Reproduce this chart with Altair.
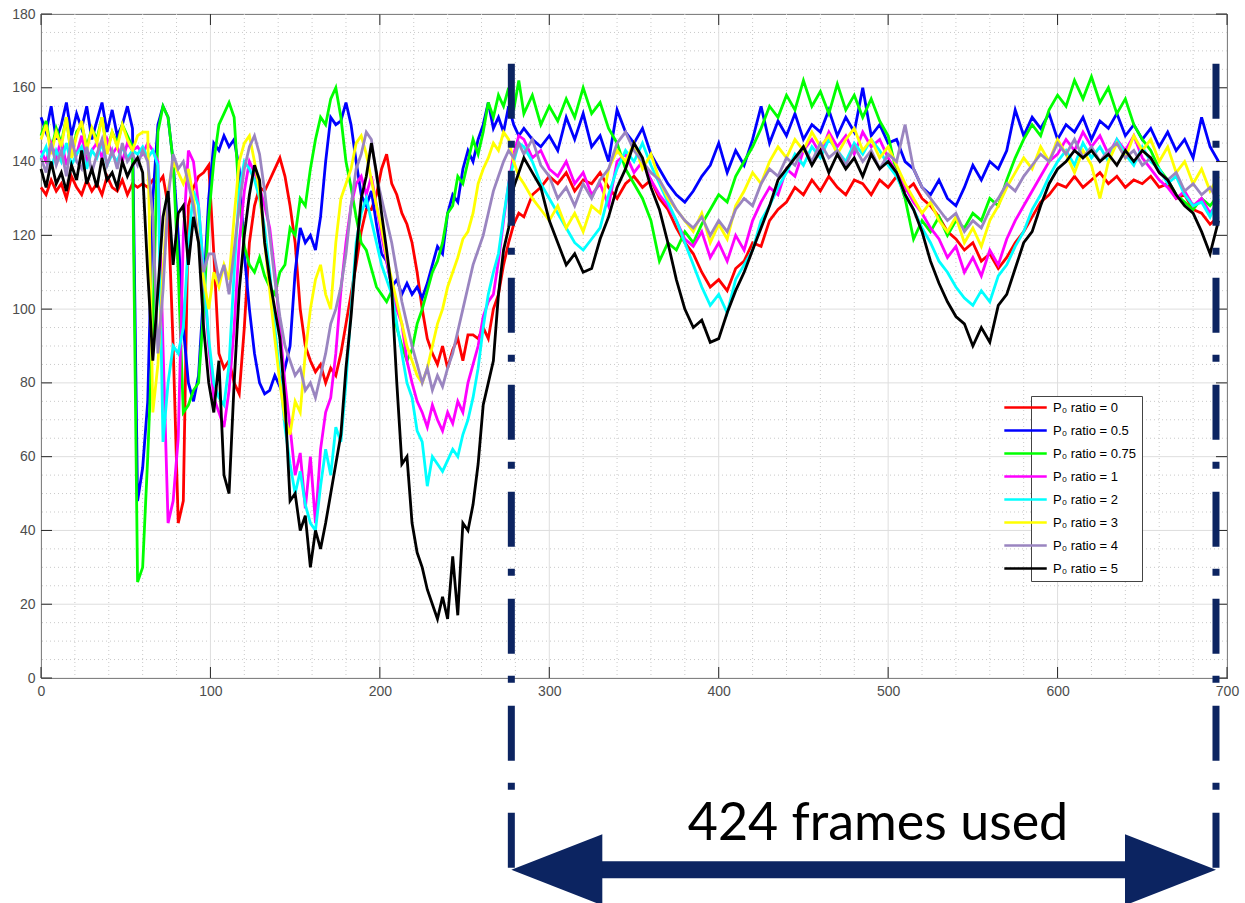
import altair as alt
import pandas as pd

# ---------------- data ----------------
FRAMES = list(range(0, 285, 3)) + list(range(285, 700, 5))

SERIES = ["P₀ ratio = 0", "P₀ ratio = 0.5", "P₀ ratio = 0.75", "P₀ ratio = 1",
          "P₀ ratio = 2", "P₀ ratio = 3", "P₀ ratio = 4", "P₀ ratio = 5"]
COLORS = ["#ff0000", "#0000ff", "#00ff00", "#ff00ff",
          "#00ffff", "#ffff00", "#9a85c0", "#000000"]

RATIO_0 = [
    133, 131, 135, 132, 134, 130, 136, 133, 131, 135, 132, 134, 131, 136, 133, 132, 135, 131, 134, 133,
    134, 133, 135, 134, 136, 128, 90, 42, 48, 128,
    133, 136, 137, 139, 115, 88, 84, 86, 80, 77,
    95, 118, 128, 133, 132, 135, 138, 141, 136, 128,
    118, 100, 90, 86, 83, 85, 80, 84, 82, 88,
    96, 104, 112, 121, 127, 127, 131, 138, 142, 134,
    131, 126, 123, 118, 110, 100, 92, 88, 85, 90,
    84, 89, 92, 86, 93, 93, 92, 95, 92, 100,
    104, 112, 118, 123, 126,
    125, 131, 133, 136, 134, 137, 132, 135, 134, 137,
    133, 130, 134, 136, 133, 135, 130, 127, 122, 118,
    115, 110, 106, 108, 105, 111, 113, 118, 117, 124,
    127, 129, 133, 131, 135, 132, 136, 133, 131, 135,
    134, 131, 135, 133, 136, 132, 134, 130, 128, 125,
    121, 119, 116, 118, 113, 115, 111, 114, 118, 121,
    125, 129, 131, 134, 133, 136, 133, 135, 137, 134,
    136, 133, 135, 134, 136, 133, 134, 130, 131, 127,
    126, 123, 125,
]
RATIO_05 = [
    152, 148, 155, 146, 150, 156, 147, 153, 149, 155, 146, 151, 156, 148, 154, 147, 150, 155, 149, 48,
    57, 75, 130, 150, 155, 152, 140, 120, 95, 80,
    75, 82, 105, 130, 145, 143, 147, 144, 146, 138,
    115, 100, 88, 80, 77, 78, 82, 79, 84, 90,
    110, 122, 118, 120, 116, 125, 140, 152, 150, 151,
    156, 150, 140, 131, 128, 132, 123, 115, 113, 106,
    108, 104, 107, 104, 106, 103, 107, 112, 117, 115,
    126, 131, 129, 138, 143, 140, 146, 150, 156, 149,
    152, 148, 155, 150, 147,
    149, 146, 144, 147, 143, 152, 146, 153, 144, 147,
    140, 154, 148, 145, 149, 142, 138, 134, 131, 129,
    132, 136, 139, 145, 137, 143, 139, 146, 155, 145,
    151, 147, 153, 146, 150, 148, 154, 147, 152, 148,
    160, 147, 150, 145, 146, 140, 138, 133, 131, 135,
    130, 128, 133, 139, 135, 140, 138, 143, 154, 147,
    152, 149, 153, 146, 150, 148, 152, 146, 151, 149,
    153, 147, 150, 146, 149, 144, 148, 143, 146, 141,
    152, 144, 140,
]
RATIO_075 = [
    147, 151, 143, 149, 145, 152, 141, 148, 150, 144, 149, 146, 152, 143, 148, 145, 150, 147, 144, 26,
    30, 60, 95, 148, 155, 152, 140, 110, 72, 74,
    78, 80, 100, 125, 140, 150, 153, 156, 152, 130,
    117, 112, 110, 114, 109, 106, 104, 110, 112, 122,
    120, 130, 128, 138, 146, 152, 150, 157, 160, 152,
    140, 133, 125, 118, 116, 111, 106, 104, 102, 105,
    95, 90, 86, 89, 96, 100, 105, 110, 113, 118,
    126, 128, 136, 134, 140, 146, 142, 148, 156, 152,
    158, 155, 160, 154, 162,
    153, 158, 150, 155, 151, 157, 152, 160, 153, 156,
    149, 145, 138, 134, 130, 124, 113, 118, 116, 121,
    118, 123, 127, 131, 129, 136, 140, 144, 149, 155,
    152, 158, 154, 162, 155, 159, 153, 161, 154, 158,
    152, 157, 151, 147, 137, 130, 119, 124, 121, 125,
    120, 124, 122, 126, 124, 130, 128, 135, 141, 146,
    150, 147, 154, 158, 155, 162, 157, 163, 156, 160,
    153, 157, 150, 146, 143, 138, 135, 131, 129, 127,
    130, 128, 131,
]
RATIO_1 = [
    143, 140, 145, 141, 146, 139, 144, 142, 147, 140, 143, 145, 141, 146, 142, 144, 140, 145, 143, 144,
    142, 145, 143, 140, 90, 42, 48, 65, 120, 143,
    140, 128, 110, 90, 76, 72, 68, 78, 95, 118,
    132, 140, 137, 133, 128, 122, 110, 95, 80, 68,
    55, 61, 46, 60, 42, 62, 72, 76, 88, 105,
    118, 128, 134, 136, 131, 136, 128, 120, 113, 107,
    100, 96, 86, 80, 75, 72, 68, 74, 70, 67,
    72, 69, 75, 72, 80, 85, 90, 98, 102, 104,
    113, 124, 134, 142, 147,
    146, 141, 143, 138, 136, 140, 134, 137, 131, 134,
    128, 140, 142, 137, 140, 135, 131, 128, 124, 119,
    117, 121, 114, 118, 113, 120, 116, 124, 129, 133,
    131, 138, 136, 143, 146, 142, 148, 144, 147, 142,
    148, 144, 146, 141, 137, 133, 129, 126, 122, 119,
    114, 117, 110, 114, 109, 116, 112, 119, 124, 128,
    132, 136, 140, 142, 146, 143, 148, 144, 147, 142,
    146, 143, 147, 141, 138, 135, 133, 130, 132, 128,
    130, 126, 129,
]
RATIO_2 = [
    141, 144, 138, 143, 140, 145, 139, 142, 144, 138, 143, 141, 145, 139, 142, 140, 144, 141, 143, 142,
    144, 141, 143, 139, 64, 80, 90, 88, 95, 118,
    132, 128, 110, 92, 80, 76, 74, 85, 110, 132,
    140, 138, 135, 130, 122, 110, 95, 82, 68, 58,
    50, 56, 47, 42, 40, 52, 62, 55, 68, 64,
    80, 100, 118, 126, 130, 124, 118, 112, 108, 104,
    96, 88, 80, 76, 67, 64, 52, 60, 58, 56,
    59, 62, 60, 66, 70, 76, 84, 95, 104, 110,
    115, 125, 134, 140, 145,
    144, 140, 134, 130, 126, 122, 118, 116, 119, 122,
    131, 138, 143, 140, 145, 139, 134, 129, 124, 118,
    112, 106, 101, 104, 99, 108, 112, 116, 124, 128,
    133, 137, 142, 139, 144, 141, 146, 143, 140, 145,
    142, 146, 143, 139, 136, 131, 127, 122, 118, 113,
    110, 106, 103, 101, 105, 102, 109, 112, 117, 121,
    127, 131, 136, 140, 143, 139, 145, 141, 144, 140,
    146, 142, 139, 144, 140, 138, 134, 136, 131, 128,
    129, 125, 130,
]
RATIO_3 = [
    146, 150, 142, 148, 144, 152, 141, 147, 151, 143, 149, 145, 152, 142, 148, 144, 150, 146, 143, 147,
    148, 148, 72, 85, 110, 132, 140, 137, 134, 138,
    130, 118, 108, 100, 110, 106, 112, 108, 125, 140,
    145, 147, 140, 132, 118, 105, 92, 80, 70, 66,
    75, 72, 88, 100, 108, 112, 104, 100, 118, 130,
    134, 138, 145, 147, 142, 135, 128, 122, 114, 108,
    102, 96, 90, 86, 82, 80, 84, 90, 96, 100,
    106, 110, 114, 119, 121, 126, 134, 138, 141, 145,
    143, 148, 146, 140, 136,
    134, 130, 127, 124, 128, 122, 126, 121, 128, 126,
    138, 143, 140, 145, 138, 142, 135, 130, 127, 124,
    121, 126, 118, 123, 119, 128, 132, 137, 134, 140,
    144, 141, 146, 143, 148, 144, 147, 142, 146, 149,
    143, 146, 141, 144, 139, 134, 130, 126, 129, 124,
    121, 125, 118, 122, 117, 124, 128, 133, 137, 141,
    138, 144, 140, 146, 142, 137, 143, 139, 130, 140,
    145, 141, 147, 143, 146, 140, 144, 137, 140, 134,
    138, 132, 136,
]
RATIO_4 = [
    141, 137, 145, 139, 143, 136, 147, 140, 138, 144, 137, 142, 146, 139, 143, 138, 145, 140, 142, 139,
    143, 140, 125, 88, 105, 130, 142, 138, 140, 134,
    128, 118, 110, 115, 115, 108, 112, 104, 116, 128,
    138, 144, 147, 142, 132, 120, 108, 98, 90, 86,
    82, 84, 78, 80, 76, 82, 88, 96, 100, 106,
    115, 128, 138, 142, 148, 146, 136, 130, 124, 118,
    110, 102, 96, 90, 85, 80, 84, 78, 82, 79,
    84, 88, 94, 100, 106, 112, 116, 120, 126, 132,
    136, 140, 143, 141, 145,
    142, 146, 139, 136, 130, 133, 128, 134, 130, 135,
    138, 145, 148, 143, 140, 137, 135, 131, 127, 124,
    122, 125, 120, 124, 121, 127, 130, 128, 134, 138,
    136, 141, 139, 144, 140, 145, 141, 143, 139, 144,
    140, 143, 138, 142, 140, 150, 138, 133, 130, 127,
    124, 126, 121, 124, 122, 127, 130, 134, 132, 136,
    139, 142, 140, 145, 142, 146, 141, 144, 140, 143,
    145, 141, 143, 139, 141, 137, 135, 137, 132, 134,
    131, 133, 129,
]
RATIO_5 = [
    138, 133, 140, 134, 137, 132, 139, 135, 143, 134, 138, 133, 141, 135, 137, 133, 140, 136, 139, 141,
    137, 110, 86, 105, 125, 132, 112, 126, 128, 112,
    125, 118, 95, 80, 72, 86, 55, 50, 80, 105,
    120, 131, 139, 135, 118, 108, 100, 92, 75, 48,
    50, 40, 44, 30, 40, 35, 42, 50, 58, 66,
    84, 98, 115, 130, 136, 145, 137, 126, 116, 105,
    80, 58, 60, 42, 34, 30, 24, 20, 16, 22,
    16, 33, 17, 42, 40, 47, 58, 74, 80, 86,
    104, 116, 122, 133, 137,
    141, 137, 133, 124, 118, 112, 115, 110, 111, 119,
    125, 133, 138, 145, 141, 133, 127, 118, 108, 100,
    95, 97, 91, 92, 99, 105, 110, 116, 122, 128,
    135, 138, 141, 144, 139, 143, 137, 142, 138, 141,
    136, 142, 138, 140, 137, 131, 127, 121, 113, 107,
    102, 98, 96, 90, 95, 91, 101, 104, 111, 118,
    121, 128, 134, 138, 140, 143, 141, 143, 140, 142,
    139, 143, 140, 143, 141, 137, 135, 131, 128, 126,
    121, 115, 124,
]
VALUES = [RATIO_0, RATIO_05, RATIO_075, RATIO_1, RATIO_2, RATIO_3, RATIO_4, RATIO_5]

X_TICKS = [0, 100, 200, 300, 400, 500, 600, 700]
Y_TICKS = [0, 20, 40, 60, 80, 100, 120, 140, 160, 180]
X_MINOR = [20, 40, 60, 80, 120, 140, 160, 180, 220, 240, 260, 280, 320, 340, 360, 380,
           420, 440, 460, 480, 520, 540, 560, 580, 620, 640, 660, 680]
Y_MINOR = [5, 10, 15, 25, 30, 35, 45, 50, 55, 65, 70, 75, 85, 90, 95, 105, 110, 115,
           125, 130, 135, 145, 150, 155, 165, 170, 175]
USED_FRAMES = [277.6, 693.5]
ANNOTATION = "424 frames used"

# ---------------- build ----------------
W, H = 1186, 664
NAVY = "#0c2461"
AXIS_FONT = "Liberation Sans"

rows = []
for name, vals in zip(SERIES, VALUES):
    assert len(vals) == len(FRAMES), (name, len(vals), len(FRAMES))
    rows += [{"frame": f, "value": v, "series": name} for f, v in zip(FRAMES, vals)]
df = pd.DataFrame(rows)

xscale = alt.Scale(domain=[0, 700], nice=False, zero=False)
yscale = alt.Scale(domain=[0, 180], nice=False, zero=False)

x_axis = alt.Axis(values=X_TICKS, grid=False, ticks=False, domain=False,
                  labelFont=AXIS_FONT, labelFontSize=14, labelColor="#4d4d4d",
                  labelPadding=6, labelFlush=False, title=None, format="d")
y_axis = alt.Axis(values=Y_TICKS, grid=False, ticks=False, domain=False,
                  labelFont=AXIS_FONT, labelFontSize=14, labelColor="#4d4d4d",
                  labelPadding=6, labelFlush=False, title=None, format="d")

one = pd.DataFrame({"k": [0]})

def vgrid(vals, **kw):
    return alt.Chart(pd.DataFrame({"g": vals})).mark_rule(**kw).encode(
        x=alt.X("g:Q", scale=xscale, axis=x_axis))

def hgrid(vals, **kw):
    return alt.Chart(pd.DataFrame({"g": vals})).mark_rule(**kw).encode(
        y=alt.Y("g:Q", scale=yscale, axis=y_axis))

minor_x = vgrid(X_MINOR, color="#c9c9c9", strokeDash=[1, 3], strokeWidth=1)
minor_y = hgrid(Y_MINOR, color="#c9c9c9", strokeDash=[1, 3], strokeWidth=1)
major_x = vgrid(X_TICKS, color="#dedede", strokeWidth=1)
major_y = hgrid(Y_TICKS, color="#dedede", strokeWidth=1)

color = alt.Color(
    "series:N",
    scale=alt.Scale(domain=SERIES, range=COLORS),
    legend=alt.Legend(
        title=None, orient="none", legendX=990, legendY=382,
        symbolType="M-9,0H1", symbolSize=72, symbolStrokeWidth=2.5,
        labelFont=AXIS_FONT, labelFontSize=13, labelColor="#000000",
        strokeColor="#444444", fillColor="#ffffff", padding=5,
        rowPadding=9, labelOffset=4,
    ),
)

lines = [
    alt.Chart(df).transform_filter(alt.datum.series == s).mark_line(strokeWidth=2.8).encode(
        x=alt.X("frame:Q", scale=xscale, axis=x_axis),
        y=alt.Y("value:Q", scale=yscale, axis=y_axis),
        color=color,
    )
    for s in SERIES
]

TK = 11
tick_b = alt.Chart(pd.DataFrame({"g": X_TICKS})).mark_rule(color="#262626").encode(
    x=alt.X("g:Q", scale=xscale, axis=x_axis), y=alt.value(H), y2=alt.value(H - TK))
tick_t = alt.Chart(pd.DataFrame({"g": X_TICKS})).mark_rule(color="#262626").encode(
    x=alt.X("g:Q", scale=xscale, axis=x_axis), y=alt.value(0), y2=alt.value(TK))
tick_l = alt.Chart(pd.DataFrame({"g": Y_TICKS})).mark_rule(color="#262626").encode(
    y=alt.Y("g:Q", scale=yscale, axis=y_axis), x=alt.value(0), x2=alt.value(TK))
tick_r = alt.Chart(pd.DataFrame({"g": Y_TICKS})).mark_rule(color="#262626").encode(
    y=alt.Y("g:Q", scale=yscale, axis=y_axis), x=alt.value(W), x2=alt.value(W - TK))

dashdot = alt.Chart(pd.DataFrame({"f": USED_FRAMES})).mark_rule(
    color=NAVY, strokeWidth=7, strokeDash=[55, 22, 7, 23], strokeCap="butt", clip=False
).encode(
    x=alt.X("f:Q", scale=xscale, axis=x_axis),
    y=alt.YDatum(166.5, scale=yscale, axis=y_axis),
    y2=alt.Y2Datum(-52),
)

shaft = alt.Chart(one).mark_rule(color=NAVY, strokeWidth=17, strokeCap="butt", clip=False).encode(
    x=alt.XDatum(USED_FRAMES[0] + 45, scale=xscale, axis=x_axis),
    x2=alt.X2Datum(USED_FRAMES[1] - 45),
    y=alt.YDatum(-52, scale=yscale, axis=y_axis),
)
head_l = alt.Chart(one).mark_point(
    shape="M0,0L2,-0.78L2,0.78Z", size=8281, filled=True, opacity=1,
    color=NAVY, strokeWidth=0, clip=False
).encode(
    x=alt.XDatum(USED_FRAMES[0], scale=xscale, axis=x_axis),
    y=alt.YDatum(-52, scale=yscale, axis=y_axis),
)
head_r = alt.Chart(one).mark_point(
    shape="M0,0L-2,-0.78L-2,0.78Z", size=8281, filled=True, opacity=1,
    color=NAVY, strokeWidth=0, clip=False
).encode(
    x=alt.XDatum(USED_FRAMES[1], scale=xscale, axis=x_axis),
    y=alt.YDatum(-52, scale=yscale, axis=y_axis),
)
label = alt.Chart(one).mark_text(
    text=ANNOTATION, font="Lato", fontSize=52, align="center",
    baseline="alphabetic", color="#000000", clip=False
).encode(
    x=alt.XDatum(494, scale=xscale, axis=x_axis),
    y=alt.YDatum(-44, scale=yscale, axis=y_axis),
)

chart = alt.layer(
    minor_x, minor_y, major_x, major_y, *lines,
    tick_b, tick_t, tick_l, tick_r,
    dashdot, shaft, head_l, head_r, label,
).properties(
    width=W, height=H,
    padding={"left": 41, "top": 14, "right": 18, "bottom": 225},
    autosize=alt.AutoSizeParams(type="none"),
    background="#ffffff",
).configure_view(stroke="#262626", strokeWidth=1)

chart.save("out.html", embed_options={"renderer": "svg", "actions": False})
